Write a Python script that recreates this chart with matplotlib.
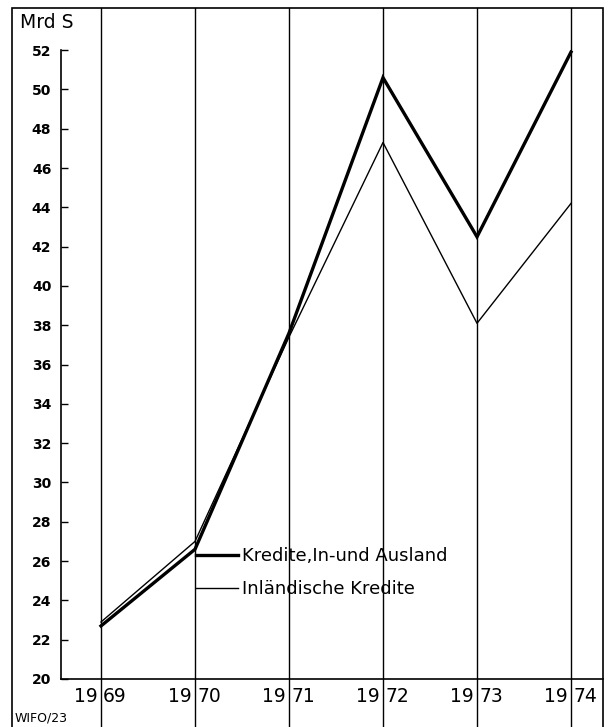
import matplotlib
matplotlib.use('Agg')
import matplotlib.pyplot as plt
import matplotlib.transforms as mtransforms
from matplotlib.patches import Rectangle

years = [1969, 1970, 1971, 1972, 1973, 1974]
kredite_gesamt = [22.7, 26.6, 37.6, 50.6, 42.5, 51.9]
kredite_inland = [22.9, 27.0, 37.4, 47.3, 38.1, 44.2]
y_ticks = list(range(20, 53, 2))
label_gesamt = 'Kredite,In-und Ausland'
label_inland = 'Inländische Kredite'

W, H = 610, 727
fig = plt.figure(figsize=(W / 100, H / 100), dpi=100)

# axes area: x from 61 to 603 px, y from 679 (bottom) to 8 (top)
ax = fig.add_axes([61 / W, (H - 679) / H, (603 - 61) / W, (679 - 8) / H])

px_per_year = 94.0
ax.set_xlim(1969 - 40 / px_per_year, 1969 + (603 - 101) / px_per_year)
ax.set_ylim(20, 52 + 42 / 19.6)

ax.plot(years, kredite_gesamt, color='black', lw=2.4, solid_joinstyle='miter',
        label=label_gesamt)
ax.plot(years, kredite_inland, color='black', lw=1.0, label=label_inland)

# vertical year lines over the full height of the frame
for yr in years:
    ax.axvline(yr, ymin=-0.08, ymax=1, color='black', lw=1.0, clip_on=False, zorder=0)

ax.spines['top'].set_visible(False)
ax.spines['right'].set_visible(False)
ax.spines['left'].set_bounds(20, 52)
ax.spines['left'].set_linewidth(1.2)
ax.spines['bottom'].set_linewidth(1.2)

ax.set_yticks(y_ticks)
ax.set_yticklabels([str(v) for v in y_ticks])
ax.tick_params(axis='y', direction='in', length=5, width=1.0, pad=7,
               labelsize=10)
for lab in ax.get_yticklabels():
    lab.set_fontweight('bold')
ax.set_xticks([])

# year labels split by the vertical line: "19|69"
trans = mtransforms.blended_transform_factory(ax.transData, ax.transAxes)
off_l = mtransforms.offset_copy(trans, fig=fig, x=-3, y=0, units='dots')
off_r = mtransforms.offset_copy(trans, fig=fig, x=2, y=0, units='dots')
for yr in years:
    s = str(yr)
    ax.text(yr, -18 / 671, s[:2], transform=off_l, ha='right', va='center',
            fontsize=13.5)
    ax.text(yr, -18 / 671, s[2:], transform=off_r, ha='left', va='center',
            fontsize=13.5)

leg = ax.legend(loc='upper left', bbox_to_anchor=((196 - 61) / 542, (679 - 547) / 671),
                frameon=False, borderpad=0, borderaxespad=0, handlelength=2.3,
                handletextpad=0.25, labelspacing=0.85, fontsize=13)

# outer frame
fig.patches.append(Rectangle((12 / W, -0.01), (603 - 12) / W, (H - 8) / H + 0.01,
                             transform=fig.transFigure, fill=False,
                             edgecolor='black', lw=1.2))

fig.text(20 / W, 1 - 22 / H, 'Mrd S', ha='left', va='center', fontsize=13.5)
fig.text(15 / W, 1 - 718 / H, 'WIFO/23', ha='left', va='center', fontsize=9)

fig.savefig('out.png', dpi=100)
